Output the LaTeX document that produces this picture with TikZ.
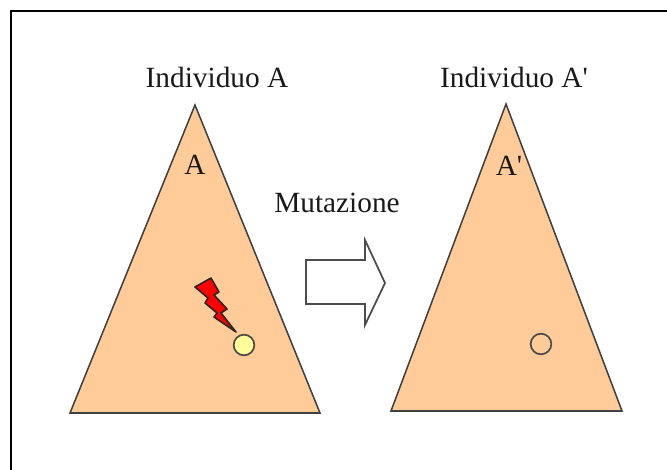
\documentclass[tikz,border=0pt]{standalone}
\usepackage{fontspec}
\setmainfont{Liberation Serif}
\usetikzlibrary{positioning}

\begin{document}
\begin{tikzpicture}[
    x=0.75pt,
    y=-0.75pt,
    font=\fontsize{22}{26}\selectfont,
    label/.style={
        inner sep=0pt,
        text=black!90
    },
    individual/.style={
        draw=black!75,
        fill=peach,
        line width=1.15pt,
        line join=miter
    },
    gene/.style={
        circle,
        draw=black!70,
        line width=1.3pt,
        minimum size=15.5pt,
        inner sep=0pt
    },
    bigarrow/.style={
        draw=black!70,
        fill=white,
        line width=1.3pt,
        line join=miter
    },
    bolt/.style={
        draw=black!85,
        fill=red,
        line width=1.2pt,
        line join=round
    }
]
\definecolor{peach}{RGB}{255,204,153}
\definecolor{palegene}{RGB}{255,255,153}

\useasboundingbox (0,0) rectangle (667,470);

% Open frame, only top and left
\draw[line width=1.1pt] (11,470) -- (11,11) -- (667,11);

% Individuals
\draw[individual] (195,105) coordinate (apexA)
    -- (320,413) -- (70,413) -- cycle;
\draw[individual] (506,104) coordinate (apexB)
    -- (622,411) -- (391,411) -- cycle;

\node[label] (titleA) at (217,77) {Individuo A};
\node[label] (titleB) at (514,77) {Individuo A\textquotesingle};
\node[label] (rootA) at (195,165) {A};
\node[label] (rootB) at (509,166) {A\textquotesingle};

% Mutated genes
\node[gene, fill=palegene] (geneA) at (244,345) {};
\node[gene, fill=peach] (geneB) at (541,344) {};

\draw[bolt] (195,287) -- (211,278) -- (219,292) -- (214,295)
    -- (227,309) -- (221,313) -- (236,332) -- (214,317)
    -- (217,313) -- (205,303) -- (208,298) -- cycle;

% Operator
\node[label] (mutation) at (337,203) {Mutazione};
\draw[bigarrow] (306,260) -- (365,260) -- (365,240) -- (385,283)
    -- (365,325) -- (365,304) -- (306,304) -- cycle;

\end{tikzpicture}
\end{document}
